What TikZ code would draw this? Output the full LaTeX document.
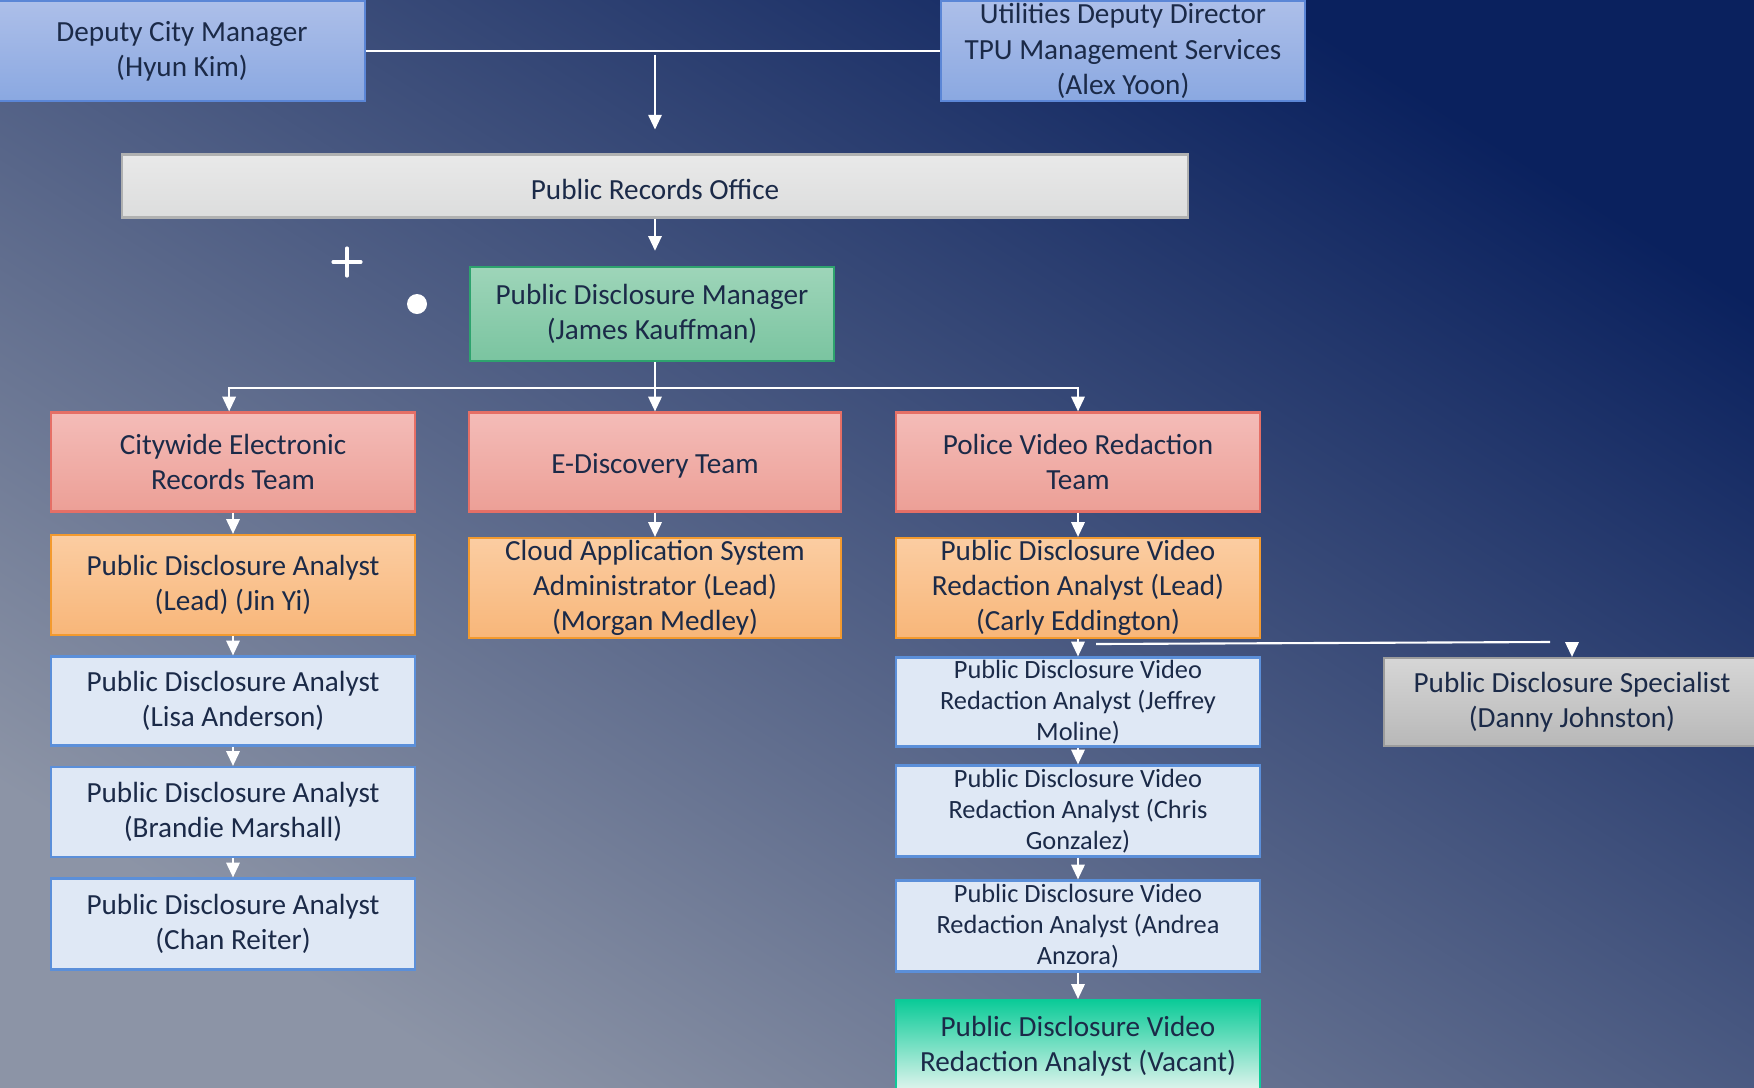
\documentclass[tikz,border=0pt]{standalone}
\usepackage{fontspec}
\setmainfont{Carlito}
\usetikzlibrary{arrows.meta, positioning, calc}

\definecolor{ink}{HTML}{1B2A48}
\definecolor{bgdark}{HTML}{0A215E}
\definecolor{bgmid}{HTML}{57678E}
\definecolor{bglight}{HTML}{8C94A6}
\definecolor{bluetop}{HTML}{ADBFE9}
\definecolor{bluebot}{HTML}{8AA8E1}
\definecolor{blueline}{HTML}{5B86D6}
\definecolor{greytop}{HTML}{E9E9E9}
\definecolor{greybot}{HTML}{DCDDDD}
\definecolor{greenup}{HTML}{9ED5B9}
\definecolor{greenlow}{HTML}{7AC4A0}
\definecolor{greenline}{HTML}{2EA36E}
\definecolor{redtop}{HTML}{F4BCB8}
\definecolor{redbot}{HTML}{EC9F96}
\definecolor{redline}{HTML}{E56F66}
\definecolor{orangetop}{HTML}{FBCDA2}
\definecolor{orangebot}{HTML}{F8B679}
\definecolor{orangeline}{HTML}{F39A2E}
\definecolor{paleblue}{HTML}{DFE8F5}
\definecolor{paleline}{HTML}{5B8FD9}
\definecolor{spectop}{HTML}{D6D6D6}
\definecolor{specbot}{HTML}{B8B8B8}
\definecolor{vacanttop}{HTML}{0BCB98}
\definecolor{vacantbot}{HTML}{E4F5EF}

\begin{document}
\begin{tikzpicture}[x=0.01cm, y=-0.01cm,
    box/.style={draw, rectangle, line width=0.6pt, text=ink, align=center, inner sep=0pt,
        font=\fontsize{8.3}{10}\selectfont, execute at begin node={\rule{0pt}{7.8pt}}},
    bluebox/.style={box, top color=bluetop, bottom color=bluebot, draw=blueline},
    greybox/.style={box, top color=greytop, bottom color=greybot, draw=greybot!80!black},
    greenbox/.style={box, top color=greenup, bottom color=greenlow, draw=greenline},
    teambox/.style={box, top color=redtop, bottom color=redbot, draw=redline},
    leadbox/.style={box, top color=orangetop, bottom color=orangebot, draw=orangeline},
    staffbox/.style={box, fill=paleblue, draw=paleline},
    specbox/.style={box, top color=spectop, bottom color=specbot, draw=specbot!85!black},
    vacantbox/.style={box, top color=vacanttop, bottom color=vacantbot, draw=vacanttop},
    small/.style={font=\fontsize{7.5}{8.9}\selectfont},
    conn/.style={white, line width=0.6pt},
    arr/.style={conn, -{Triangle[width=3.8pt,length=4.2pt]}}]

    % Background
    \clip (0,0) rectangle (1754,1087);
    \shade[shading=axis, top color=bgdark, middle color=bgmid, bottom color=bglight, shading angle=-32]
        (0,0) rectangle (1754,1087);

    % Top managers
    \node[bluebox, minimum width=3.65cm, minimum height=1.00cm] (dcm) at (182,51) {Deputy City Manager\\(Hyun Kim)};
    \node[bluebox, minimum width=3.63cm, minimum height=1.00cm] (udd) at (1123,51) {Utilities Deputy Director\\TPU Management Services\\(Alex Yoon)};

    % Office
    \node[greybox, minimum width=10.65cm, minimum height=0.63cm] (pro) at (655,186) {Public Records Office};

    % Manager
    \node[greenbox, minimum width=3.64cm, minimum height=0.94cm] (pdm) at (652,314) {Public Disclosure Manager\\(James Kauffman)};
    \fill[white] (417,304) circle (10);
    \draw[white, line width=0.9pt, line cap=round] (347,248) -- (347,276) (333,262) -- (361,262);

    % Teams
    \node[teambox, minimum width=3.64cm, minimum height=0.99cm] (cert) at (233,462) {Citywide Electronic\\Records Team};
    \node[teambox, minimum width=3.71cm, minimum height=0.99cm] (edt) at (655,462) {E-Discovery Team};
    \node[teambox, minimum width=3.64cm, minimum height=0.99cm] (pvrt) at (1078,462) {Police Video Redaction\\Team};

    % Leads
    \node[leadbox, minimum width=3.64cm, minimum height=1.00cm] (jin) at (233,585) {Public Disclosure Analyst\\(Lead) (Jin Yi)};
    \node[leadbox, minimum width=3.71cm, minimum height=1.00cm] (morgan) at (655,588) {Cloud Application System\\Administrator (Lead)\\(Morgan Medley)};
    \node[leadbox, minimum width=3.64cm, minimum height=1.00cm] (carly) at (1078,588) {Public Disclosure Video\\Redaction Analyst (Lead)\\(Carly Eddington)};

    % Citywide analysts
    \node[staffbox, minimum width=3.64cm, minimum height=0.89cm] (lisa) at (233,701) {Public Disclosure Analyst\\(Lisa Anderson)};
    \node[staffbox, minimum width=3.64cm, minimum height=0.90cm] (brandie) at (233,812) {Public Disclosure Analyst\\(Brandie Marshall)};
    \node[staffbox, minimum width=3.64cm, minimum height=0.91cm] (chan) at (233,924) {Public Disclosure Analyst\\(Chan Reiter)};

    % Video analysts
    \node[staffbox, small, minimum width=3.64cm, minimum height=0.89cm] (jeffrey) at (1078,702) {Public Disclosure Video\\Redaction Analyst (Jeffrey\\Moline)};
    \node[staffbox, small, minimum width=3.64cm, minimum height=0.91cm] (chris) at (1078,811) {Public Disclosure Video\\Redaction Analyst (Chris\\Gonzalez)};
    \node[staffbox, small, minimum width=3.64cm, minimum height=0.91cm] (andrea) at (1078,926) {Public Disclosure Video\\Redaction Analyst (Andrea\\Anzora)};
    \node[vacantbox, minimum width=3.64cm, minimum height=0.92cm] (vacant) at (1078,1046) {Public Disclosure Video\\Redaction Analyst (Vacant)};

    % Specialist
    \node[specbox, minimum width=3.75cm, minimum height=0.88cm] (danny) at (1572,702) {Public Disclosure Specialist\\(Danny Johnston)};

    % Connectors
    \draw[conn] (dcm.east) -- (udd.west);
    \draw[arr, shorten >=6.8pt] ([yshift=-1pt]pro.north |- dcm.east) -- (pro.north);
    \draw[arr, shorten >=4.3pt] (pro.south) -- (pro.south |- pdm.north);
    \coordinate (bus) at (655,388);
    \draw[conn] (pdm.south -| bus) -- (bus);
    \draw[arr] (bus) -| ([xshift=-1.1pt]cert.north);
    \draw[arr] (bus) -- (edt.north);
    \draw[arr] (bus) -| (pvrt.north);
    \draw[arr] (cert) -- (jin);
    \draw[arr] (edt) -- (edt.south |- morgan.north);
    \draw[arr] (pvrt) -- (pvrt.south |- carly.north);
    \draw[arr] (jin) -- (jin.south |- lisa.north);
    \draw[arr] (lisa) -- (brandie);
    \draw[arr] (brandie) -- (chan);
    \draw[arr] (carly) -- (carly.south |- jeffrey.north);
    \draw[arr] (jeffrey) -- (chris);
    \draw[arr] (chris) -- (andrea);
    \draw[arr] (andrea) -- (vacant);
    \coordinate (split) at (1096,644);
    \coordinate (splitend) at (1550,642);
    \draw[conn] (split) -- (splitend);
    \draw[arr] (danny.north |- split) -- (danny.north);
\end{tikzpicture}
\end{document}
